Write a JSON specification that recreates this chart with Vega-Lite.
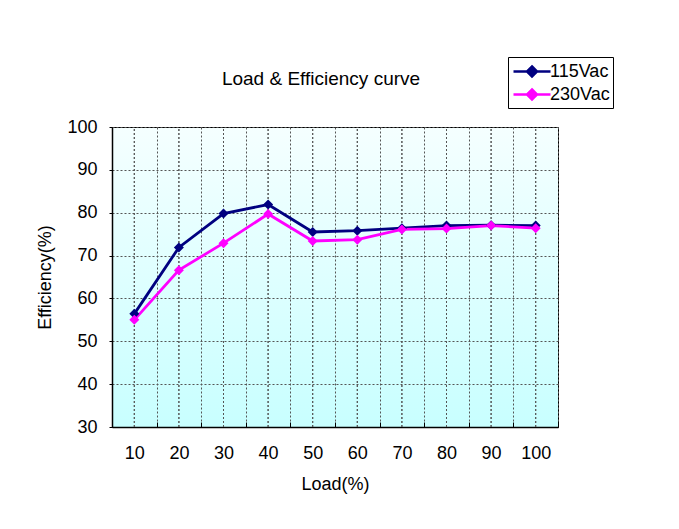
{
  "$schema": "https://vega.github.io/schema/vega-lite/v6.json",
  "autosize": "none",
  "padding": {"left": 112, "top": 127, "right": 121, "bottom": 102},
  "width": 446,
  "height": 300,
  "background": "white",
  "title": {"text": "Load & Efficiency curve", "font": "Liberation Sans", "fontSize": 19, "fontWeight": "normal", "color": "black", "anchor": "middle", "dx": -14, "offset": -32},
  "data": {"values": [
    {"load": 10, "series": "115Vac", "eff": 56.4},
    {"load": 20, "series": "115Vac", "eff": 71.9},
    {"load": 30, "series": "115Vac", "eff": 79.8},
    {"load": 40, "series": "115Vac", "eff": 81.9},
    {"load": 50, "series": "115Vac", "eff": 75.5},
    {"load": 60, "series": "115Vac", "eff": 75.8},
    {"load": 70, "series": "115Vac", "eff": 76.4},
    {"load": 80, "series": "115Vac", "eff": 77.0},
    {"load": 90, "series": "115Vac", "eff": 77.1},
    {"load": 100, "series": "115Vac", "eff": 77.0},
    {"load": 10, "series": "230Vac", "eff": 55.0},
    {"load": 20, "series": "230Vac", "eff": 66.6},
    {"load": 30, "series": "230Vac", "eff": 72.9},
    {"load": 40, "series": "230Vac", "eff": 79.7},
    {"load": 50, "series": "230Vac", "eff": 73.4},
    {"load": 60, "series": "230Vac", "eff": 73.7},
    {"load": 70, "series": "230Vac", "eff": 76.1},
    {"load": 80, "series": "230Vac", "eff": 76.3},
    {"load": 90, "series": "230Vac", "eff": 77.0},
    {"load": 100, "series": "230Vac", "eff": 76.4}
  ]},
  "encoding": {
    "x": {"field": "load", "type": "ordinal", "scale": {"type": "band", "paddingInner": 0, "paddingOuter": 0},
      "axis": {"title": "Load(%)", "labelAngle": 0, "grid": true, "gridDash": [2, 2], "gridColor": "#555555", "gridOpacity": 1, "tickBand": "extent", "tickSize": -5, "tickColor": "black", "labelPadding": 22, "titlePadding": 13}},
    "y": {"field": "eff", "type": "quantitative", "scale": {"domain": [30, 100]},
      "axis": {"title": "Efficiency(%)", "values": [30, 40, 50, 60, 70, 80, 90, 100], "grid": true, "gridDash": [2, 2], "gridColor": "#555555", "gridOpacity": 1, "tickSize": 3, "tickColor": "black", "labelPadding": 12, "titlePadding": 12}}
  },
  "layer": [
    {"mark": {"type": "rule", "strokeDash": [2, 2], "color": "#555555", "strokeWidth": 1}, "encoding": {"y": {"datum": 30}, "y2": {"datum": 100}}},
    {"mark": {"type": "line", "strokeWidth": 2.8, "point": {"shape": "diamond", "size": 100, "filled": true}},
      "encoding": {"color": {"field": "series", "type": "nominal", "scale": {"domain": ["115Vac", "230Vac"], "range": ["#000080", "#FF00FF"]},
        "legend": {"title": null, "orient": "none", "legendX": 396, "legendY": -70, "strokeColor": "black", "fillColor": "white", "padding": 3, "labelFontSize": 18, "labelFont": "Liberation Sans", "labelColor": "black", "symbolType": "M-0.9,0H2.8M0.95,-0.5L1.45,0L0.95,0.5L0.45,0Z", "symbolSize": 400, "symbolStrokeWidth": 2.5, "rowPadding": 1, "labelOffset": 16}}}}
  ],
  "config": {
    "view": {"stroke": "black", "strokeWidth": 1, "fill": {"gradient": "linear", "x1": 0, "y1": 0, "x2": 0, "y2": 1, "stops": [{"offset": 0, "color": "#F5FFFF"}, {"offset": 1, "color": "#C8FFFF"}]}},
    "legend": {"labelFontSize": 18, "labelFont": "Liberation Sans", "labelLimit": 200},
    "axis": {"labelFont": "Liberation Sans", "titleFont": "Liberation Sans", "labelFontSize": 18, "titleFontSize": 18, "titleFontWeight": "normal", "labelColor": "black", "titleColor": "black", "domainColor": "black", "domainWidth": 1.5}
  }
}
